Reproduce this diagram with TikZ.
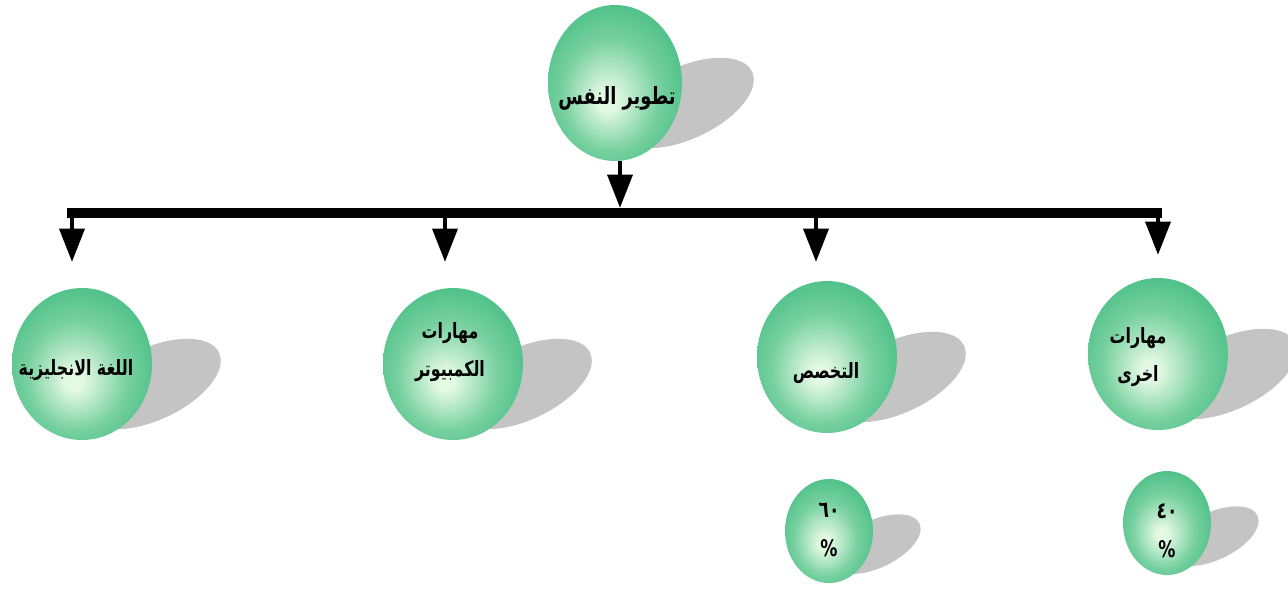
\documentclass[tikz,border=0pt]{standalone}
\usepackage{fontspec}
\newfontfamily\arabicfont[Script=Arabic,FakeStretch=0.75]{DejaVu Sans}
\TeXXeTstate=1
\usepackage{tikz}
\usetikzlibrary{shapes.geometric,arrows.meta,backgrounds}

\definecolor{ballgreen}{RGB}{60,186,124}
\definecolor{ballglow}{RGB}{228,249,228}
\definecolor{shadowgray}{RGB}{196,196,196}
\pgfdeclareradialshading{ballshade}{\pgfpoint{-3bp}{-6bp}}{color(0bp)=(ballglow); color(3bp)=(ballglow); color(18bp)=(ballgreen!65!ballglow); color(33bp)=(ballgreen); color(50bp)=(ballgreen)}

\begin{document}
\begin{tikzpicture}[
    x=0.02cm, y=-0.02cm,
    ball/.style={ellipse, shading=ballshade, inner sep=0pt},
    topball/.style={ball, minimum width=2.68cm, minimum height=3.12cm},
    bigball/.style={ball, minimum width=2.8cm, minimum height=3.04cm},
    smallball/.style={ball, minimum width=1.76cm, minimum height=2.08cm},
    balltext/.style={align=center, inner sep=0pt, font=\arabicfont\bfseries\fontsize{12}{22}\selectfont},
    pcttext/.style={balltext, font=\arabicfont\bfseries\fontsize{13}{22}\selectfont},
    shadowfill/.style={fill=shadowgray},
    bar/.style={line width=6.2pt},
    arr/.style={line width=2.8pt, -{Triangle[width=14pt,length=19pt]}}
]
\useasboundingbox (0,0) rectangle (1288,593);

% Top node
\node[topball] (self) at (615,83) {};
\node[balltext, font=\arabicfont\bfseries\fontsize{13.5}{22}\selectfont] (selfText) at (617,98) {\beginR تطوير النفس\endR};

% Second level
\node[bigball] (eng) at (82,364) {};
\node[balltext] (engText) at (76,370) {\beginR اللغة الانجليزية\endR};
\node[bigball] (comp) at (453,364) {};
\node[balltext] (compText) at (450,352) {\beginR مهارات\endR\\\beginR الكمبيوتر\endR};
\node[bigball] (spec) at (827,357) {};
\node[balltext] (specText) at (826,373) {\beginR التخصص\endR};
\node[bigball] (other) at (1158,354) {};
\node[balltext] (otherText) at (1138,357) {\beginR مهارات\endR\\\beginR اخرى\endR};

% Percentages
\node[smallball] (sixty) at (829,531) {};
\node[pcttext] (sixtyText) at (829,530) {\beginR ٦٠\endR\\\%};
\node[smallball] (forty) at (1167,523) {};
\node[pcttext] (fortyText) at (1167,531) {\beginR ٤٠\endR\\\%};

% Shadows
\begin{scope}[on background layer]
\foreach \n/\s in {self/1, eng/1, comp/1, spec/1, other/1, sixty/0.66, forty/0.66}{
  \path (\n.center) ++(70*\s,20*\s) coordinate (sc);
  \fill[shadowfill, rotate around={25:(sc)}] (sc) ellipse ({74*\s} and {36*\s});
}
\end{scope}

% Bar and arrows
\coordinate (barL) at (67,213);
\coordinate (barR) at (1162,213);
\coordinate (barTop) at (620,208);
\coordinate (tipEng) at (72,262);
\coordinate (tipComp) at (445,262);
\coordinate (tipSpec) at (816,262);
\coordinate (tipOther) at (1158,255);

\draw[arr] (self.south -| barTop) -- (barTop);
\draw[bar] (barL) -- (barR);
\foreach \t in {tipEng, tipComp, tipSpec, tipOther}
  \draw[arr] (\t |- barL) -- (\t);

\end{tikzpicture}
\end{document}
